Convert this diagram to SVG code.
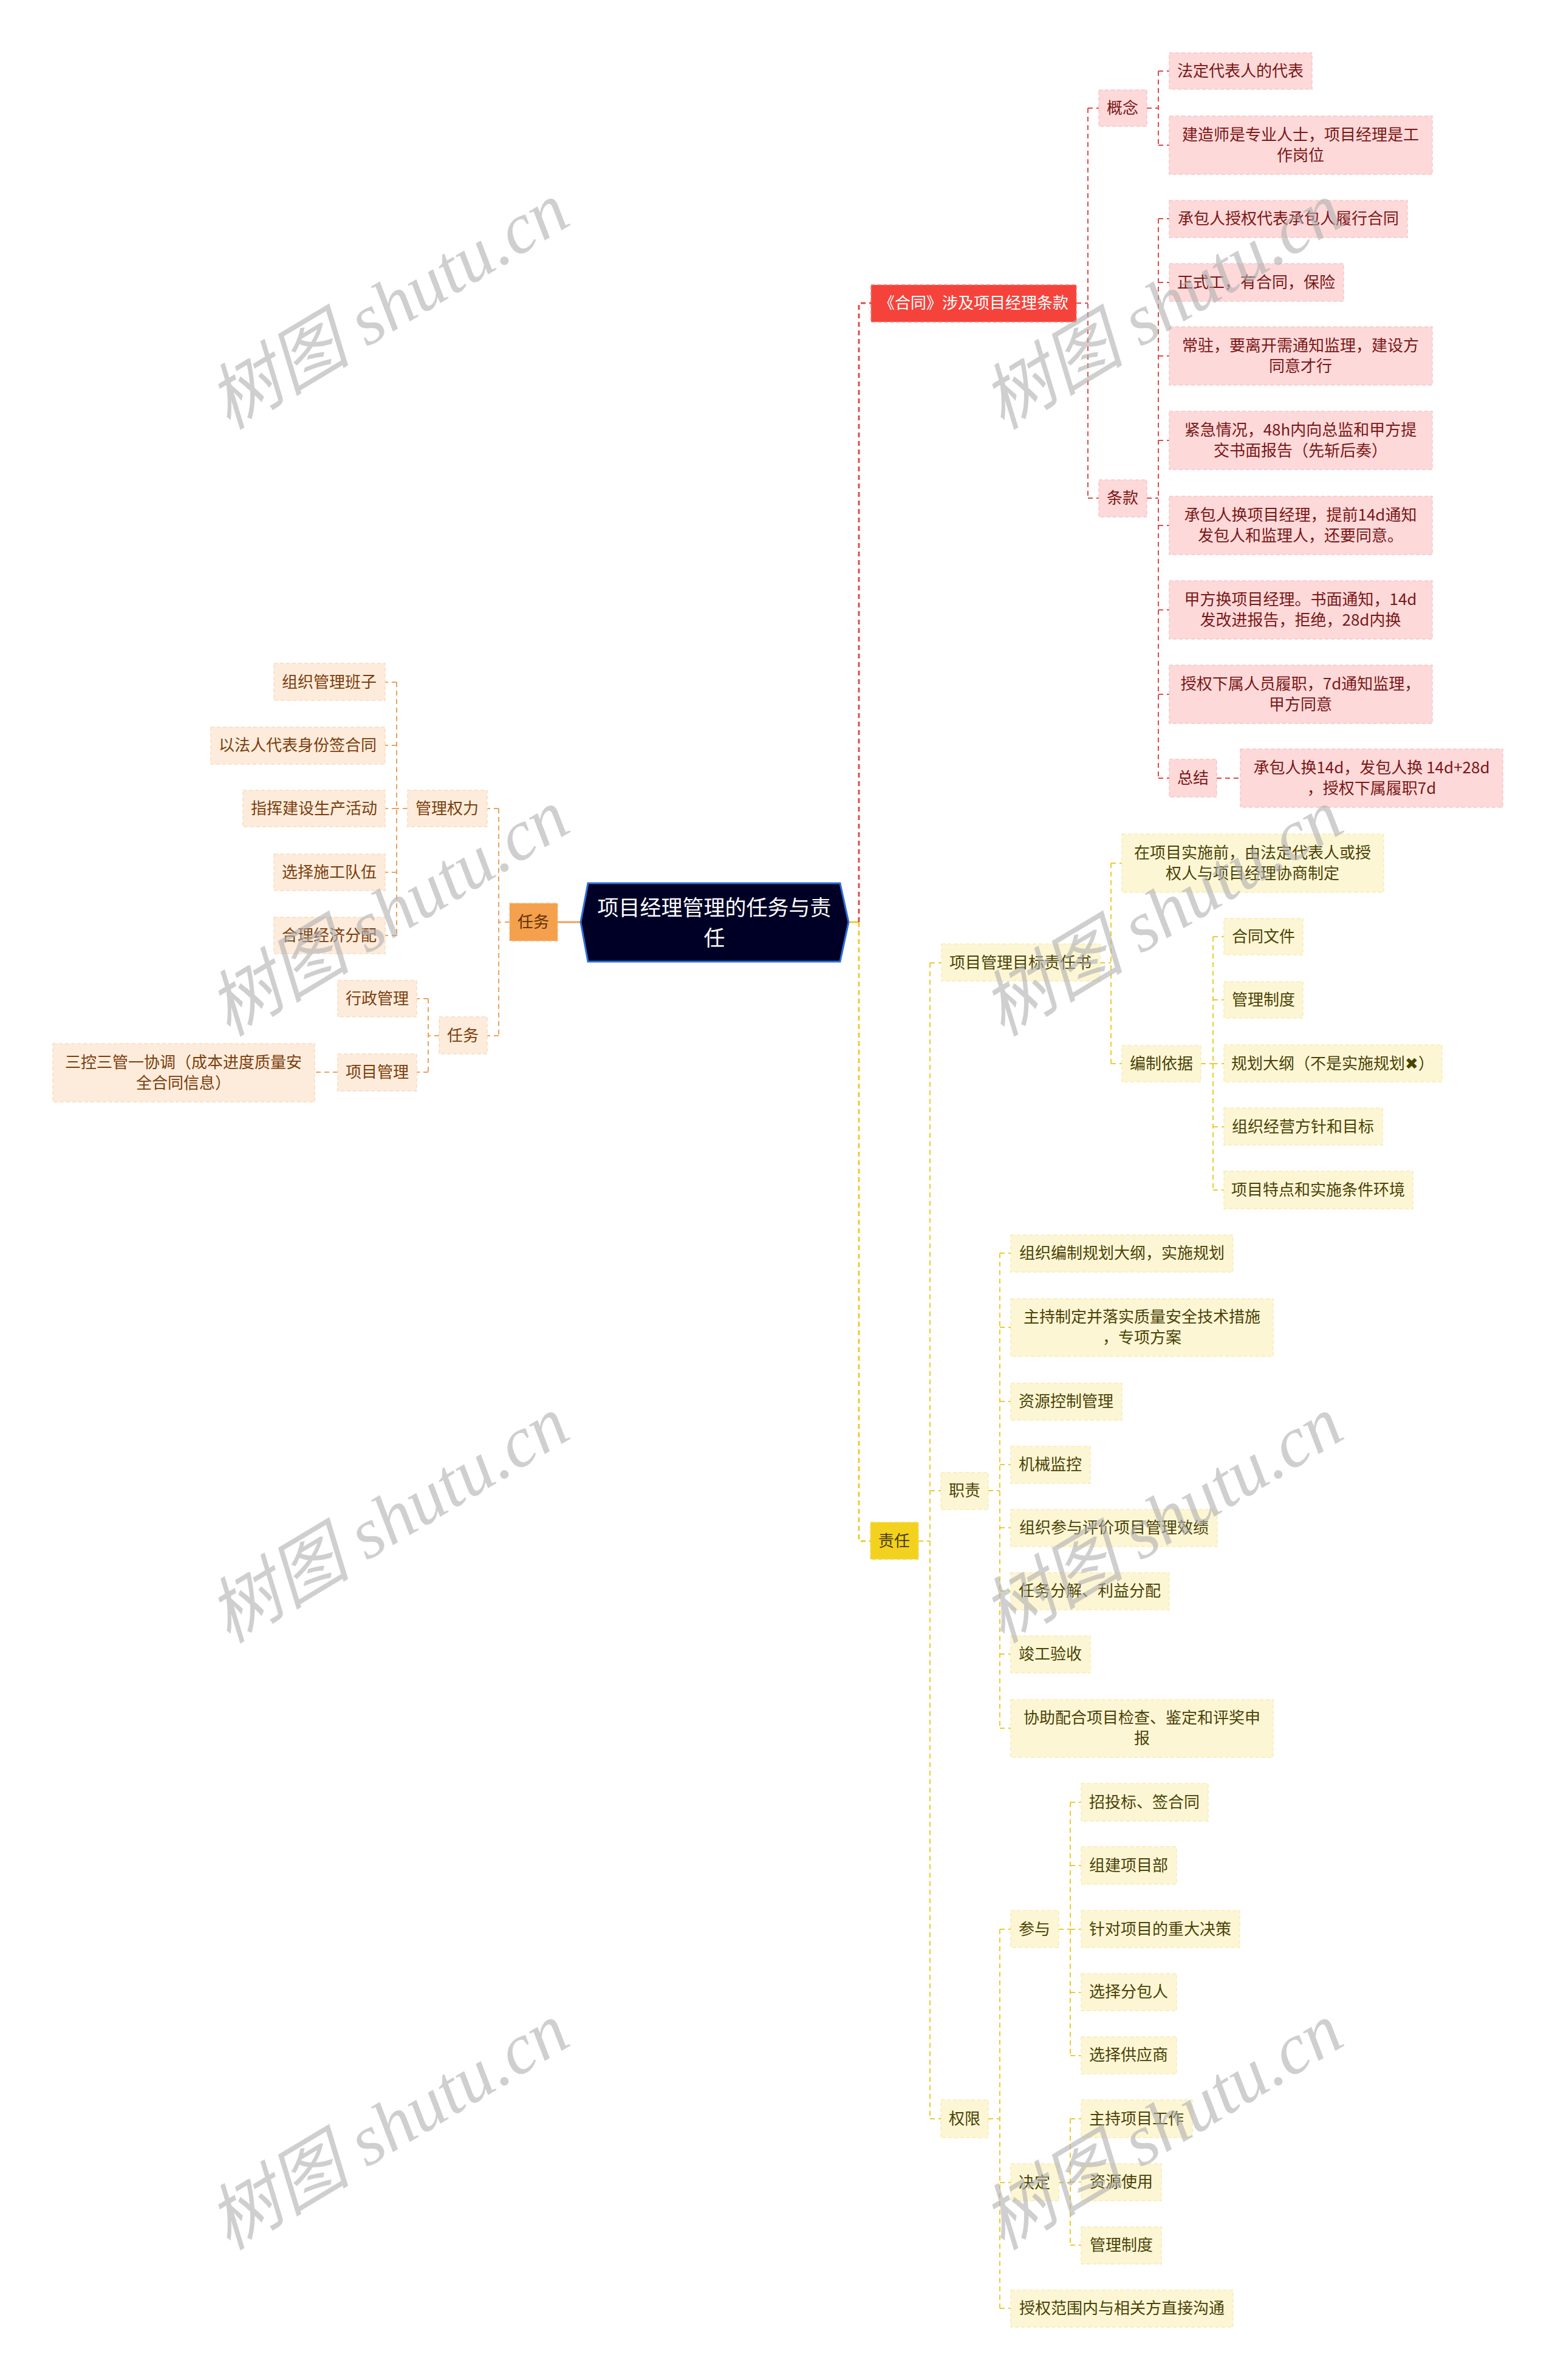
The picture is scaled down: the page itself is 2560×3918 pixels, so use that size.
<svg xmlns="http://www.w3.org/2000/svg" width="2560" height="3918" viewBox="0 0 2560 3918">
<style>
text{font-family:"Noto Sans CJK SC","Noto Sans",sans-serif;font-size:26px;text-anchor:middle}
.r rect{fill:#fdd9d9;stroke:#f7c6c6;stroke-width:1.5;stroke-dasharray:6 4}
.r text{fill:#7a1717}
.o rect{fill:#fdecdb;stroke:#f8dcc0;stroke-width:1.5;stroke-dasharray:6 4}
.o text{fill:#7a3e0e}
.y rect{fill:#fdf6d4;stroke:#f6ebb6;stroke-width:1.5;stroke-dasharray:6 4}
.y text{fill:#4a4207}
.cr{fill:none;stroke:#e04a4a;stroke-width:2;stroke-dasharray:8 6}
.co{fill:none;stroke:#eba35b;stroke-width:2;stroke-dasharray:8 6}
.cy{fill:none;stroke:#eccb2e;stroke-width:2;stroke-dasharray:8 6}
.thick{stroke-width:3}
.wm{font-family:"Liberation Serif","Noto Sans CJK SC",serif;font-size:118px;fill:#b0b0b0;opacity:0.6;font-style:italic}
</style>
<rect width="2560" height="3918" fill="#ffffff"/>

<g id="connectors">
  <path d="M1397,1518 H1414" fill="none" stroke="#eccb2e" stroke-width="3"/>
  <path d="M918,1518 H956" fill="none" stroke="#eba35b" stroke-width="3"/>
  <path class="cr thick" d="M1414,1518 V499 H1434"/>
  <path class="cr" d="M1772,499 H1791 M1791,178 V820 M1791,178 H1809 M1791,820 H1809"/>
  <path class="cr" d="M1888,178 H1907 M1907,117 V239 M1907,117 H1925 M1907,239 H1925"/>
  <path class="cr" d="M1888,820 H1907 M1907,360 V1281 M1907,360 H1925 M1907,465 H1925 M1907,586 H1925 M1907,725 H1925 M1907,865 H1925 M1907,1004 H1925 M1907,1143 H1925 M1907,1281 H1925"/>
  <path class="cr" d="M2003,1281 H2042"/>
  <path class="co" d="M839,1518 H821 M821,1331 V1705 M821,1331 H802 M821,1705 H802"/>
  <path class="co" d="M671,1331 H653 M653,1123 V1540 M653,1123 H634 M653,1227 H634 M653,1331 H634 M653,1436 H634 M653,1540 H634"/>
  <path class="co" d="M723,1705 H705 M705,1644 V1765 M705,1644 H686 M705,1765 H686"/>
  <path class="co" d="M556,1765 H518"/>
  <path class="cy thick" d="M1414,1518 V2537 H1433"/>
  <path class="cy" d="M1512,2537 H1531 M1531,1585 V3488 M1531,1585 H1550 M1531,2454 H1549 M1531,3488 H1549"/>
  <path class="cy" d="M1811,1585 H1829 M1829,1421 V1751 M1829,1421 H1847 M1829,1751 H1847"/>
  <path class="cy" d="M1977,1751 H1997 M1997,1542 V1959 M1997,1542 H2015 M1997,1646 H2015 M1997,1751 H2015 M1997,1855 H2015 M1997,1959 H2015"/>
  <path class="cy" d="M1627,2454 H1646 M1646,2063 V2845 M1646,2063 H1664 M1646,2185 H1664 M1646,2307 H1664 M1646,2411 H1664 M1646,2515 H1664 M1646,2619 H1664 M1646,2723 H1664 M1646,2845 H1664"/>
  <path class="cy" d="M1627,3488 H1646 M1646,3176 V3800 M1646,3176 H1664 M1646,3593 H1664 M1646,3800 H1664"/>
  <path class="cy" d="M1743,3176 H1762 M1762,2967 V3384 M1762,2967 H1780 M1762,3071 H1780 M1762,3176 H1780 M1762,3280 H1780 M1762,3384 H1780"/>
  <path class="cy" d="M1743,3593 H1762 M1762,3488 V3696 M1762,3488 H1780 M1762,3592 H1780 M1762,3696 H1780"/>
</g>

<g id="root">
  <polygon points="968,1454 1383,1454 1397,1518 1383,1583 968,1583 956,1518" fill="#000026" stroke="#2f6fd6" stroke-width="3"/>
  <text x="1176" y="1507" style="font-size:35px;fill:#ffffff">项目经理管理的任务与责</text>
  <text x="1176" y="1557" style="font-size:35px;fill:#ffffff">任</text>
</g>

<g id="hetong">
  <rect x="1434" y="469" width="338" height="61" fill="#f5433b" stroke="#f77a74" stroke-width="1.5" stroke-dasharray="6 4"/>
  <text x="1603" y="508" style="fill:#ffffff">《合同》涉及项目经理条款</text>
</g>
<g id="gainian" class="r"><rect x="1809" y="148" width="79" height="60"/><text x="1848" y="187">概念</text></g>
<g id="tiaokuan" class="r"><rect x="1809" y="790" width="79" height="61"/><text x="1848" y="829">条款</text></g>
<g id="r1" class="r"><rect x="1925" y="87" width="235" height="60"/><text x="2042" y="126">法定代表人的代表</text></g>
<g id="r2" class="r"><rect x="1925" y="191" width="433" height="96"/><text x="2141" y="231">建造师是专业人士，项目经理是工</text><text x="2141" y="265">作岗位</text></g>
<g id="r3" class="r"><rect x="1925" y="330" width="392" height="61"/><text x="2121" y="369">承包人授权代表承包人履行合同</text></g>
<g id="r4" class="r"><rect x="1925" y="434" width="287" height="62"/><text x="2068" y="474">正式工，有合同，保险</text></g>
<g id="r5" class="r"><rect x="1925" y="538" width="433" height="96"/><text x="2141" y="578">常驻，要离开需通知监理，建设方</text><text x="2141" y="612">同意才行</text></g>
<g id="r6" class="r"><rect x="1925" y="677" width="433" height="96"/><text x="2141" y="717">紧急情况，48h内向总监和甲方提</text><text x="2141" y="751">交书面报告（先斩后奏）</text></g>
<g id="r7" class="r"><rect x="1925" y="817" width="433" height="96"/><text x="2141" y="857">承包人换项目经理，提前14d通知</text><text x="2141" y="891">发包人和监理人，还要同意。</text></g>
<g id="r8" class="r"><rect x="1925" y="956" width="433" height="96"/><text x="2141" y="996">甲方换项目经理。书面通知，14d</text><text x="2141" y="1030">发改进报告，拒绝，28d内换</text></g>
<g id="r9" class="r"><rect x="1925" y="1095" width="433" height="96"/><text x="2141" y="1135">授权下属人员履职，7d通知监理，</text><text x="2141" y="1169">甲方同意</text></g>
<g id="zongjie" class="r"><rect x="1925" y="1250" width="78" height="62"/><text x="1964" y="1290">总结</text></g>
<g id="r10" class="r"><rect x="2042" y="1233" width="432" height="96"/><text x="2258" y="1273">承包人换14d，发包人换 14d+28d</text><text x="2258" y="1307">，授权下属履职7d</text></g>

<g id="renwu">
  <rect x="839" y="1487" width="79" height="62" fill="#f4a04c" stroke="#f7bd82" stroke-width="1.5" stroke-dasharray="6 4"/>
  <text x="878" y="1527" style="fill:#5e3008">任务</text>
</g>
<g id="guanliquanli" class="o"><rect x="671" y="1301" width="131" height="60"/><text x="736" y="1340">管理权力</text></g>
<g id="renwu2" class="o"><rect x="723" y="1674" width="79" height="61"/><text x="762" y="1714">任务</text></g>
<g id="o1" class="o"><rect x="451" y="1092" width="183" height="61"/><text x="542" y="1132">组织管理班子</text></g>
<g id="o2" class="o"><rect x="347" y="1197" width="287" height="61"/><text x="490" y="1236">以法人代表身份签合同</text></g>
<g id="o3" class="o"><rect x="400" y="1301" width="234" height="60"/><text x="517" y="1340">指挥建设生产活动</text></g>
<g id="o4" class="o"><rect x="451" y="1406" width="183" height="60"/><text x="542" y="1445">选择施工队伍</text></g>
<g id="o5" class="o"><rect x="451" y="1510" width="183" height="60"/><text x="542" y="1549">合理经济分配</text></g>
<g id="o6" class="o"><rect x="556" y="1614" width="130" height="60"/><text x="621" y="1653">行政管理</text></g>
<g id="o7" class="o"><rect x="556" y="1735" width="130" height="61"/><text x="621" y="1774">项目管理</text></g>
<g id="o8" class="o"><rect x="87" y="1718" width="431" height="96"/><text x="302" y="1758">三控三管一协调（成本进度质量安</text><text x="302" y="1792">全合同信息）</text></g>

<g id="zeren">
  <rect x="1433" y="2506" width="79" height="61" fill="#f3d21f" stroke="#f0dc6a" stroke-width="1.5" stroke-dasharray="6 4"/>
  <text x="1472" y="2546" style="fill:#4a3c00">责任</text>
</g>
<g id="mubiao" class="y"><rect x="1550" y="1554" width="261" height="61"/><text x="1680" y="1594">项目管理目标责任书</text></g>
<g id="y1" class="y"><rect x="1847" y="1373" width="431" height="96"/><text x="2062" y="1413">在项目实施前，由法定代表人或授</text><text x="2062" y="1447">权人与项目经理协商制定</text></g>
<g id="bianzhi" class="y"><rect x="1847" y="1721" width="130" height="60"/><text x="1912" y="1760">编制依据</text></g>
<g id="y2" class="y"><rect x="2015" y="1512" width="130" height="60"/><text x="2080" y="1551">合同文件</text></g>
<g id="y3" class="y"><rect x="2015" y="1616" width="130" height="60"/><text x="2080" y="1655">管理制度</text></g>
<g id="y4" class="y"><rect x="2015" y="1720" width="359" height="61"/><text x="2194" y="1760">规划大纲（不是实施规划✖）</text></g>
<g id="y5" class="y"><rect x="2015" y="1824" width="261" height="61"/><text x="2145" y="1864">组织经营方针和目标</text></g>
<g id="y6" class="y"><rect x="2015" y="1928" width="311" height="62"/><text x="2170" y="1968">项目特点和实施条件环境</text></g>

<g id="zhize" class="y"><rect x="1549" y="2424" width="78" height="61"/><text x="1588" y="2463">职责</text></g>
<g id="y7" class="y"><rect x="1664" y="2033" width="366" height="61"/><text x="1847" y="2072">组织编制规划大纲，实施规划</text></g>
<g id="y8" class="y"><rect x="1664" y="2138" width="432" height="95"/><text x="1880" y="2177">主持制定并落实质量安全技术措施</text><text x="1880" y="2211">，专项方案</text></g>
<g id="y9" class="y"><rect x="1664" y="2277" width="183" height="61"/><text x="1755" y="2316">资源控制管理</text></g>
<g id="y10" class="y"><rect x="1664" y="2381" width="131" height="61"/><text x="1729" y="2420">机械监控</text></g>
<g id="y11" class="y"><rect x="1664" y="2485" width="340" height="61"/><text x="1834" y="2524">组织参与评价项目管理效绩</text></g>
<g id="y12" class="y"><rect x="1664" y="2589" width="261" height="61"/><text x="1794" y="2628">任务分解、利益分配</text></g>
<g id="y13" class="y"><rect x="1664" y="2693" width="131" height="61"/><text x="1729" y="2732">竣工验收</text></g>
<g id="y14" class="y"><rect x="1664" y="2798" width="432" height="95"/><text x="1880" y="2837">协助配合项目检查、鉴定和评奖申</text><text x="1880" y="2871">报</text></g>

<g id="quanxian" class="y"><rect x="1549" y="3457" width="78" height="62"/><text x="1588" y="3497">权限</text></g>
<g id="canyu" class="y"><rect x="1664" y="3145" width="79" height="61"/><text x="1703" y="3185">参与</text></g>
<g id="jueding" class="y"><rect x="1664" y="3562" width="79" height="61"/><text x="1703" y="3602">决定</text></g>
<g id="y15" class="y"><rect x="1664" y="3770" width="366" height="61"/><text x="1847" y="3809">授权范围内与相关方直接沟通</text></g>
<g id="y16" class="y"><rect x="1780" y="2936" width="209" height="62"/><text x="1884" y="2976">招投标、签合同</text></g>
<g id="y17" class="y"><rect x="1780" y="3040" width="157" height="62"/><text x="1858" y="3080">组建项目部</text></g>
<g id="y18" class="y"><rect x="1780" y="3145" width="261" height="61"/><text x="1910" y="3185">针对项目的重大决策</text></g>
<g id="y19" class="y"><rect x="1780" y="3249" width="157" height="61"/><text x="1858" y="3288">选择分包人</text></g>
<g id="y20" class="y"><rect x="1780" y="3353" width="157" height="61"/><text x="1858" y="3392">选择供应商</text></g>
<g id="y21" class="y"><rect x="1780" y="3457" width="183" height="62"/><text x="1871" y="3497">主持项目工作</text></g>
<g id="y22" class="y"><rect x="1780" y="3562" width="132" height="61"/><text x="1846" y="3601">资源使用</text></g>
<g id="y23" class="y"><rect x="1780" y="3666" width="132" height="61"/><text x="1846" y="3705">管理制度</text></g>

<g id="watermarks">
  <text class="wm" x="660" y="538" transform="rotate(-31 660 538)">树图 shutu.cn</text>
  <text class="wm" x="1934" y="538" transform="rotate(-31 1934 538)">树图 shutu.cn</text>
  <text class="wm" x="660" y="1537" transform="rotate(-31 660 1537)">树图 shutu.cn</text>
  <text class="wm" x="1934" y="1537" transform="rotate(-31 1934 1537)">树图 shutu.cn</text>
  <text class="wm" x="660" y="2536" transform="rotate(-31 660 2536)">树图 shutu.cn</text>
  <text class="wm" x="1934" y="2536" transform="rotate(-31 1934 2536)">树图 shutu.cn</text>
  <text class="wm" x="660" y="3535" transform="rotate(-31 660 3535)">树图 shutu.cn</text>
  <text class="wm" x="1934" y="3535" transform="rotate(-31 1934 3535)">树图 shutu.cn</text>
</g>
</svg>
